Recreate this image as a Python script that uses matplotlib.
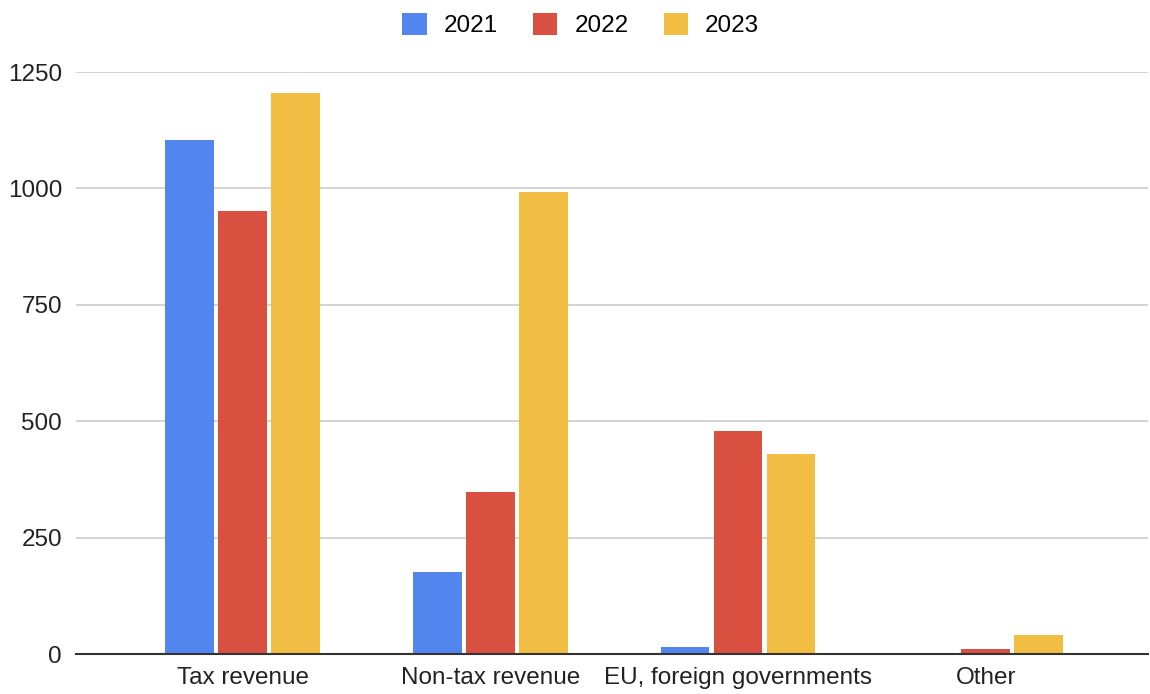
import numpy as np
import matplotlib
matplotlib.use("Agg")
import matplotlib.pyplot as plt
from matplotlib.patches import Patch

plt.rcParams["font.family"] = ["Liberation Sans", "DejaVu Sans"]

categories = ["Tax revenue", "Non-tax revenue", "EU, foreign governments", "Other"]
years = ["2021", "2022", "2023"]
v2021 = [1104, 176, 15, 0]
v2022 = [951, 348, 479, 11]
v2023 = [1205, 992, 430, 41]
colors = ["#5385ee", "#da5040", "#f1bd42"]

fig = plt.figure(figsize=[11.5, 6.94], dpi=100)
ax = fig.add_axes([0.066, 0.0576, 0.932, 0.8385])

x = np.arange(len(categories))
width = 0.197
step = 0.214
for i, (vals, c) in enumerate(zip([v2021, v2022, v2023], colors)):
	ax.bar(x + (i - 1) * step, vals, width, color=c, zorder=3)

ax.set_ylim(0, 1250)
ax.set_xlim(-0.674, 3.654)
ax.set_yticks([0, 250, 500, 750, 1000, 1250])
ax.set_xticks(x)
ax.set_xticklabels(categories)
ax.tick_params(axis="both", length=0, labelsize=17.5, colors="#222222")
ax.tick_params(axis="y", pad=10)
ax.tick_params(axis="x", pad=9)
ax.grid(axis="y", color="#cccccc", linewidth=1.2, zorder=0)
for s in ["top", "right", "left"]:
	ax.spines[s].set_visible(False)
ax.spines["bottom"].set_color("#333333")
ax.spines["bottom"].set_linewidth(1.5)
ax.spines["bottom"].set_zorder(4)

handles = [Patch(facecolor=c, edgecolor="none") for c in colors]
fig.legend(handles, years, loc="upper center", bbox_to_anchor=(0.505, 1.006),
	ncol=3, frameon=False, fontsize=17.5, handlelength=1.0, handleheight=1.0,
	handletextpad=0.7, columnspacing=1.45, borderaxespad=0.3)

plt.savefig("out.png")
